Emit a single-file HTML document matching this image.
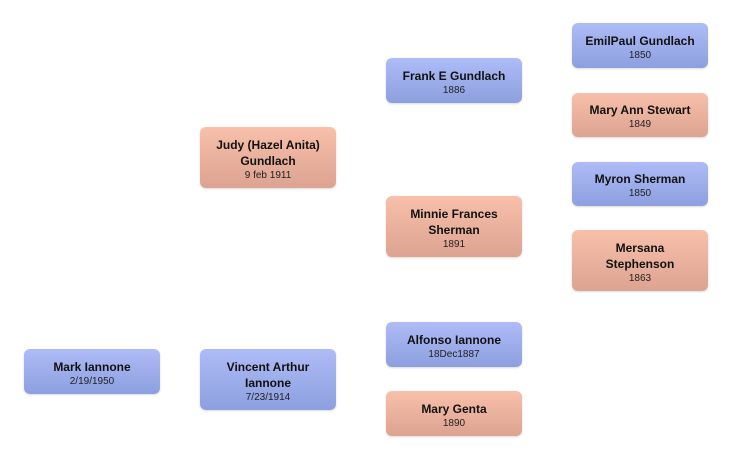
<!DOCTYPE html>
<html><head><style>
body{margin:0;width:732px;height:460px;background:#fff;position:relative;font-family:"Liberation Sans",sans-serif;overflow:hidden}
.b{position:absolute;width:136px;border-radius:6px;display:flex;flex-direction:column;justify-content:center;align-items:center;text-align:center;box-shadow:0 1px 2px rgba(0,0,0,0.15);box-sizing:border-box;padding-top:3px}
.m{background:linear-gradient(#aebcf7,#8d9fdf)}
.f{background:linear-gradient(#f8c0aa,#dca391)}
.n{font-weight:bold;font-size:12px;line-height:16px;color:#111}
.d{font-size:10px;line-height:13px;color:#222}
</style></head><body>
<div class="b m" style="left:24px;top:349px;height:45px"><div class="n">Mark Iannone</div><div class="d">2/19/1950</div></div>
<div class="b f" style="left:200px;top:127px;height:61px"><div class="n">Judy (Hazel Anita)<br>Gundlach</div><div class="d">9 feb 1911</div></div>
<div class="b m" style="left:200px;top:349px;height:61px"><div class="n">Vincent Arthur<br>Iannone</div><div class="d">7/23/1914</div></div>
<div class="b m" style="left:386px;top:58px;height:45px"><div class="n">Frank E Gundlach</div><div class="d">1886</div></div>
<div class="b f" style="left:386px;top:196px;height:61px"><div class="n">Minnie Frances<br>Sherman</div><div class="d">1891</div></div>
<div class="b m" style="left:386px;top:322px;height:45px"><div class="n">Alfonso Iannone</div><div class="d">18Dec1887</div></div>
<div class="b f" style="left:386px;top:391px;height:45px"><div class="n">Mary Genta</div><div class="d">1890</div></div>
<div class="b m" style="left:572px;top:23px;height:45px"><div class="n">EmilPaul Gundlach</div><div class="d">1850</div></div>
<div class="b f" style="left:572px;top:93px;height:44px"><div class="n">Mary Ann Stewart</div><div class="d">1849</div></div>
<div class="b m" style="left:572px;top:162px;height:44px"><div class="n">Myron Sherman</div><div class="d">1850</div></div>
<div class="b f" style="left:572px;top:230px;height:61px"><div class="n">Mersana<br>Stephenson</div><div class="d">1863</div></div>
</body></html>
